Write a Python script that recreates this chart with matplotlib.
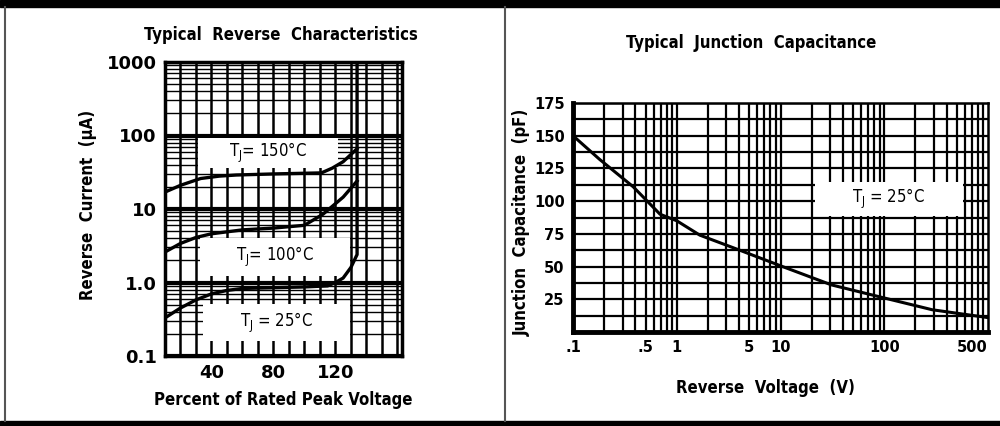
#!/usr/bin/env python

import matplotlib.pyplot as plt
import matplotlib.ticker as mticker
from matplotlib.patches import Rectangle
from matplotlib.lines import Line2D
from matplotlib import font_manager

# ---- left chart: reverse current vs percent of rated peak voltage
pct_25 = [10, 20, 30, 40, 50, 60, 80, 100, 115, 120, 125, 130, 134, 134]
cur_25 = [0.33, 0.45, 0.58, 0.7, 0.78, 0.83, 0.85, 0.87, 0.9, 1.0, 1.15, 1.6, 2.4, 1000]
pct_100 = [10, 20, 30, 40, 60, 80, 100, 112, 125, 134]
cur_100 = [2.6, 3.4, 4.1, 4.6, 5.2, 5.5, 6.0, 8.5, 14.5, 24]
pct_150 = [10, 20, 33, 45, 56, 80, 111, 118, 125, 134]
cur_150 = [17, 21, 26, 28, 29, 30, 31, 36, 44, 66]
left_yticks = [0.1, 1, 10, 100, 1000]
left_ylabels = ['0.1', '1.0', '10', '100', '1000']
left_xticks = [40, 80, 120]

# ---- right chart: junction capacitance vs reverse voltage
volts = [0.1, 0.18, 0.38, 0.69, 1.0, 1.67, 3.9, 10, 31, 100, 290, 1000]
cap_pf = [150, 132, 111, 90, 85, 74, 63, 50.6, 36, 26, 17, 11]
right_xticks = [0.1, 0.5, 1, 5, 10, 100, 500]
right_xlabels = ['.1', '.5', '1', '5', '10', '100', '500']
right_yticks = [25, 50, 75, 100, 125, 150, 175]

W, H = 1000, 426
fig = plt.figure(figsize=(10, 4.26), dpi=100)

cond_bold = font_manager.FontProperties(family='DejaVu Sans', stretch='condensed',
                                        weight='bold', size=12)
cond_reg = font_manager.FontProperties(family='DejaVu Sans', stretch='condensed',
                                       weight='normal', size=12)


def px_axes(x0, y0, x1, y1):
    return fig.add_axes([x0 / W, 1 - y1 / H, (x1 - x0) / W, (y1 - y0) / H])


def label_box(axis, x0, y0, x1, y1, text):
    # white box that blanks the grid behind a curve label (pixel coords)
    axis.add_patch(Rectangle((x0 / W, 1 - y1 / H), (x1 - x0) / W, (y1 - y0) / H,
                             transform=fig.transFigure, fc='white', ec='none',
                             zorder=4, clip_on=False))
    axis.text((x0 + x1) / 2 / W, 1 - (y0 + y1) / 2 / H, text, transform=fig.transFigure,
              ha='center', va='center', fontproperties=cond_reg, zorder=5)


# page frame
fig.patches.append(Rectangle((0, 1 - 7 / H), 1, 7 / H, transform=fig.transFigure,
                             color='black', zorder=0))
fig.patches.append(Rectangle((0, 0), 1, 5 / H, transform=fig.transFigure,
                             color='black', zorder=0))
for xp in (5, 505):
    fig.lines.append(Line2D([xp / W, xp / W], [5 / H, 1 - 7 / H], transform=fig.transFigure,
                            color='#555555', lw=1.5))

# ---------------- left
ax = px_axes(165, 62, 402, 356)
ax.set_yscale('log')
ax.set_xlim(10, 163)
ax.set_ylim(0.1, 1000)
ax.set_xticks(left_xticks)
ax.xaxis.set_minor_locator(mticker.MultipleLocator(10))
ax.set_yticks(left_yticks)
ax.set_yticklabels(left_ylabels)
ax.yaxis.set_minor_locator(mticker.LogLocator(base=10, subs=range(2, 10), numticks=20))
ax.yaxis.set_minor_formatter(mticker.NullFormatter())
ax.grid(which='both', axis='x', color='black', lw=1.8)
ax.grid(which='major', axis='y', color='black', lw=3.0)
ax.grid(which='minor', axis='y', color='black', lw=1.0)
ax.tick_params(which='both', length=0, pad=6)
for lab in ax.get_xticklabels() + ax.get_yticklabels():
    lab.set_fontfamily('DejaVu Sans')
    lab.set_fontweight('heavy')
    lab.set_fontsize(13)
for sp in ax.spines.values():
    sp.set_linewidth(2.5)
ax.set_axisbelow(True)

ax.plot(pct_25, cur_25, color='black', lw=2.4, zorder=6)
ax.plot(pct_100, cur_100, color='black', lw=2.4, zorder=6)
ax.plot(pct_150, cur_150, color='black', lw=2.4, zorder=6)

label_box(ax, 198, 138, 338, 168, 'T$_\\mathregular{J}$= 150°C')
label_box(ax, 200, 238, 350, 276, 'T$_\\mathregular{J}$= 100°C')
label_box(ax, 203, 304, 350, 341, 'T$_\\mathregular{J}$ = 25°C')

fig.text(281 / W, 1 - 35 / H, 'Typical  Reverse  Characteristics', ha='center', va='center',
         fontproperties=cond_bold)
fig.text(283 / W, 1 - 400 / H, 'Percent of Rated Peak Voltage', ha='center', va='center',
         fontproperties=cond_bold)
fig.text(88 / W, 1 - 205 / H, 'Reverse  Current  (µA)', ha='center', va='center',
         rotation=90, fontproperties=cond_bold)

# ---------------- right
ax2 = px_axes(573, 103, 988, 332)
ax2.set_xscale('log')
ax2.set_xlim(0.1, 1000)
ax2.set_ylim(0, 175)
ax2.set_xticks(right_xticks)
ax2.set_xticklabels(right_xlabels)
ax2.xaxis.set_minor_locator(mticker.LogLocator(base=10, subs=range(2, 10), numticks=20))
ax2.xaxis.set_minor_formatter(mticker.NullFormatter())
ax2.set_yticks(right_yticks)
ax2.yaxis.set_minor_locator(mticker.MultipleLocator(12.5))
ax2.grid(which='both', color='black', lw=1.6)
ax2.tick_params(which='both', length=0, pad=6)
for lab in ax2.get_xticklabels() + ax2.get_yticklabels():
    lab.set_fontfamily('DejaVu Sans')
    lab.set_fontweight('heavy')
    lab.set_fontsize(10.5)
ax2.get_xticklabels()[-1].set_horizontalalignment('left')
for sp in ax2.spines.values():
    sp.set_linewidth(1.8)
ax2.spines['left'].set_linewidth(3.5)
ax2.spines['bottom'].set_linewidth(3.5)
ax2.set_axisbelow(True)

ax2.plot(volts, cap_pf, color='black', lw=2.2, zorder=6)
label_box(ax2, 815, 182, 963, 216, 'T$_\\mathregular{J}$ = 25°C')

fig.text(751 / W, 1 - 43 / H, 'Typical  Junction  Capacitance', ha='center', va='center',
         fontproperties=cond_bold)
fig.text(765 / W, 1 - 388 / H, 'Reverse  Voltage  (V)', ha='center', va='center',
         fontproperties=cond_bold)
fig.text(522 / W, 1 - 222 / H, 'Junction  Capacitance  (pF)', ha='center', va='center',
         rotation=90, fontproperties=cond_bold)

fig.savefig('out.png', dpi=100)
